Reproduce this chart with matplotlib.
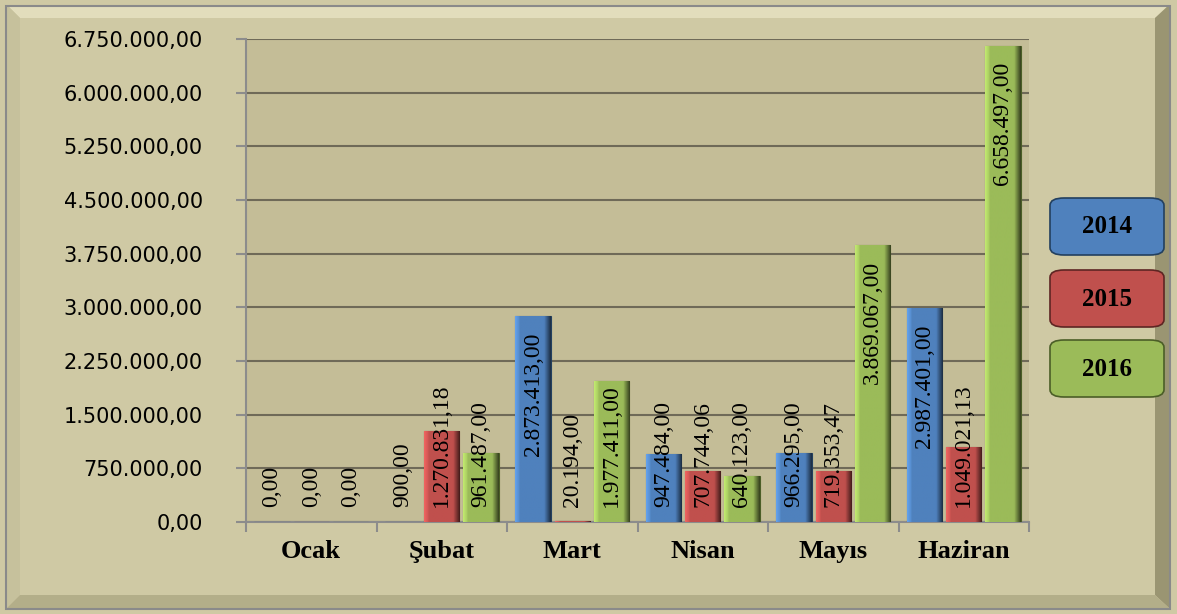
import numpy as np
import matplotlib
matplotlib.use("Agg")
import matplotlib.pyplot as plt
from matplotlib.patches import FancyBboxPatch, Rectangle, Polygon
from matplotlib.colors import to_rgb

months = ["Ocak", "Şubat", "Mart", "Nisan", "Mayıs", "Haziran"]
years = ["2014", "2015", "2016"]
v2014 = [0, 900, 2873413, 947484, 966295, 2987401]
v2015 = [0, 1270831.18, 20194, 707744.06, 719353.47, 1049021.13]
v2016 = [0, 961487, 1977411, 640123, 3869067, 6658497]
yticks = np.arange(0, 6750001, 750000)

colors = ["#4f81bd", "#c0504d", "#9bbb59"]
edges = ["#23405f", "#5e2523", "#4b5e27"]


def tr(v):
    s = f"{v:,.2f}"
    return s.replace(",", "X").replace(".", ",").replace("X", ".")


def shade(c):
    # horizontal profile: light left edge, flat middle, dark right edge
    base = np.array(to_rgb(c))
    t = np.linspace(0, 1, 40)
    f = np.where(t < 0.12, 1.25 - t * 1.5, np.where(t > 0.82, 1.0 - (t - 0.82) * 3.5, 1.0))
    img = np.clip(base[None, :] * f[:, None], 0, 1)
    return img[None, :, :]


fig = plt.figure(figsize=(11.77, 6.14), dpi=100)
fig.patch.set_facecolor("#cfc9a4")

# bevelled frame
W, H = 1177, 614
def fx(x): return x / W
def fy(y): return 1 - y / H
fig.patches.append(Polygon([(fx(7), fy(5)), (fx(1169), fy(5)), (fx(1155), fy(18)), (fx(20), fy(18))],
                           closed=True, transform=fig.transFigure, fc="#e2ddbc", ec="none"))
fig.patches.append(Polygon([(fx(7), fy(5)), (fx(20), fy(18)), (fx(20), fy(595)), (fx(7), fy(608))],
                           closed=True, transform=fig.transFigure, fc="#c6c19c", ec="none"))
fig.patches.append(Polygon([(fx(1169), fy(5)), (fx(1169), fy(608)), (fx(1155), fy(595)), (fx(1155), fy(18))],
                           closed=True, transform=fig.transFigure, fc="#9a9572", ec="none"))
fig.patches.append(Polygon([(fx(7), fy(608)), (fx(1169), fy(608)), (fx(1155), fy(595)), (fx(20), fy(595))],
                           closed=True, transform=fig.transFigure, fc="#b3ae89", ec="none"))
fig.patches.append(Rectangle((fx(6), fy(609)), fx(1164), 603 / H, transform=fig.transFigure,
                             fill=False, ec="#8a8a8a", lw=1.5))

ax = fig.add_axes([246 / W, 1 - 522 / H, (1029 - 246) / W, (522 - 39) / H])
ax.set_facecolor("#c4bd97")
ax.set_ylim(0, 6750000)
ax.set_xlim(-0.5, len(months) - 0.5)

x = np.arange(len(months))
bw = 0.27
step = 0.30
labels = []
for i, vals in enumerate([v2014, v2015, v2016]):
    pos = x + (i - 1) * step
    bars = ax.bar(pos, vals, width=bw, color=colors[i], edgecolor=edges[i], linewidth=0.8, zorder=3)
    for b, p, v in zip(bars, pos, vals):
        if v > 0:
            im = ax.imshow(shade(colors[i]), extent=[p - bw / 2, p + bw / 2, 0, v],
                           aspect="auto", zorder=3.1, interpolation="bilinear")
            im.set_clip_path(b)
        t = ax.text(p, v, tr(v), rotation=90, ha="center", va="top",
                    fontsize=17, family="Liberation Serif", color="black", zorder=4)
        labels.append((t, p, v))

ax.set_ylim(0, 6750000)
ax.set_xlim(-0.5, len(months) - 0.5)

# labels sit inside the bar end; if they don't fit they start just above the base
fig.canvas.draw()
r = fig.canvas.get_renderer()
upp = 6750000 / ax.get_window_extent().height
for t, p, v in labels:
    h = t.get_window_extent(r).height * upp
    gap = 16 * upp
    y0 = max(15 * upp, v - gap - h)
    t.set_position((p, y0))
    t.set_va("bottom")

ax.set_yticks(yticks)
ax.set_yticklabels([tr(t) for t in yticks], fontsize=15, family="DejaVu Sans")
ax.yaxis.grid(True, color="#6f6a58", lw=1.5, zorder=0)
ax.set_axisbelow(True)
ax.set_xticks(np.arange(-0.5, len(months)), minor=False)
ax.set_xticklabels([])
ax.set_xticks(x, minor=True)
ax.set_xticklabels(months, minor=True, fontsize=19, fontweight="bold", family="Liberation Serif")
ax.tick_params(axis="x", which="minor", length=0, pad=13)
ax.tick_params(axis="x", which="major", length=7, color="#8c8c8c", width=1.5)
ax.tick_params(axis="y", length=7, color="#8c8c8c", width=1.5, pad=24)
for s in ["top", "right"]:
    ax.spines[s].set_visible(False)
ax.spines["left"].set_color("#8c8c8c")
ax.spines["bottom"].set_color("#8c8c8c")
ax.spines["left"].set_linewidth(1.5)
ax.spines["bottom"].set_linewidth(1.5)

# legend boxes
ly = [198, 270, 340]
for i, yr in enumerate(years):
    box = FancyBboxPatch((fx(1050), fy(ly[i] + 57)), fx(114), 57 / H,
                         boxstyle="round,pad=0,rounding_size=0.012",
                         transform=fig.transFigure, fc=colors[i], ec=edges[i], lw=1.2)
    fig.patches.append(box)
    fig.text(fx(1107), fy(ly[i] + 29), yr, ha="center", va="center", fontsize=18,
             fontweight="bold", family="Liberation Serif")

fig.savefig("out.png", dpi=100, facecolor=fig.get_facecolor())
